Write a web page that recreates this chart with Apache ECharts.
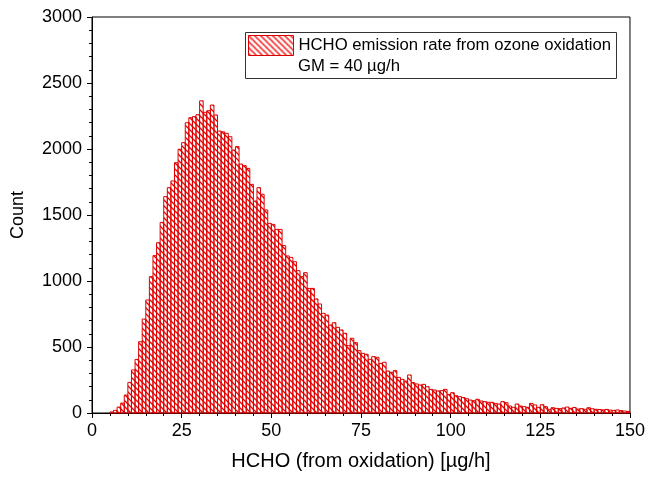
<!DOCTYPE html>
<html>
<head>
<meta charset="utf-8">
<script src="https://cdn.jsdelivr.net/npm/echarts@6/dist/echarts.min.js"></script>
<style>
  html, body { margin: 0; padding: 0; background: #fff; }
  #chart { width: 648px; height: 481px; }
</style>
</head>
<body>
<div id="chart"></div>
<script>
// Histogram of HCHO emission rate (bins of 1 µg/h, starting at 0)
const binWidth = 1;
const counts = [
  0, 0, 0, 0, 0, 8, 20, 45, 75, 136,
  232, 326, 406, 540, 712, 856, 1033, 1192, 1290, 1444,
  1639, 1707, 1758, 1896, 1998, 2048, 2199, 2237, 2245, 2260,
  2365, 2278, 2290, 2333, 2258, 2136, 2130, 2119, 2093, 1992,
  2018, 1886, 1874, 1853, 1732, 1606, 1707, 1657, 1538, 1437,
  1429, 1391, 1391, 1268, 1190, 1179, 1146, 1078, 1033, 1063,
  944, 944, 864, 826, 755, 742, 667, 684, 649, 629,
  604, 510, 566, 533, 472, 452, 445, 407, 427, 422,
  376, 384, 318, 308, 321, 270, 255, 242, 288, 230,
  220, 212, 217, 199, 179, 174, 167, 169, 179, 141,
  154, 131, 124, 117, 108, 98, 93, 104, 91, 86,
  81, 81, 73, 68, 86, 78, 53, 43, 68, 53,
  48, 43, 73, 61, 43, 63, 48, 28, 40, 35,
  33, 38, 45, 35, 42, 30, 33, 28, 40, 32,
  28, 26, 24, 27, 22, 20, 23, 18, 15, 12
];
const xTicks = [0, 25, 50, 75, 100, 125, 150];
const yTicks = [0, 500, 1000, 1500, 2000, 2500, 3000];
const seriesName = 'HCHO emission rate from ozone oxidation';
const gmText = 'GM = 40 µg/h';

// Diagonal hatch fill for the bars
function makeHatch(size, color, width) {
  const c = document.createElement('canvas');
  c.width = size; c.height = size;
  const ctx = c.getContext('2d');
  ctx.strokeStyle = color;
  ctx.lineWidth = width;
  ctx.beginPath();
  ctx.moveTo(-1, -1); ctx.lineTo(size + 1, size + 1);
  ctx.moveTo(size - 1, -1); ctx.lineTo(size + 1, 1);
  ctx.moveTo(-1, size - 1); ctx.lineTo(1, size + 1);
  ctx.stroke();
  return c;
}
const hatch = { image: makeHatch(6, '#f00000', 1.3), repeat: 'repeat' };
const edgeColor = '#dc0000';

const binData = [];
counts.forEach((c, i) => {
  if (c > 0) binData.push([i * binWidth, (i + 1) * binWidth, c]);
});

const font = 'Liberation Sans, Arial, sans-serif';
const chart = echarts.init(document.getElementById('chart'), null, { renderer: 'canvas' });

chart.setOption({
  animation: false,
  backgroundColor: '#fff',
  grid: {
    left: 92, right: 17, top: 17, bottom: 68,
    show: true, borderColor: '#000', borderWidth: 1, backgroundColor: 'transparent'
  },
  xAxis: {
    type: 'value',
    min: xTicks[0], max: xTicks[xTicks.length - 1], interval: 25,
    name: 'HCHO (from oxidation) [µg/h]',
    nameLocation: 'middle', nameGap: 38,
    nameTextStyle: { fontFamily: font, fontSize: 20, color: '#000' },
    axisLine: { show: true, onZero: false, lineStyle: { color: '#000', width: 1 } },
    axisTick: { show: true, inside: false, length: 5, lineStyle: { color: '#000' } },
    minorTick: { show: true, splitNumber: 5, length: 3, lineStyle: { color: '#000' } },
    axisLabel: { fontFamily: font, fontSize: 18, color: '#000', margin: 9 },
    splitLine: { show: false }
  },
  yAxis: {
    type: 'value',
    min: yTicks[0], max: yTicks[yTicks.length - 1], interval: 500,
    name: 'Count',
    nameLocation: 'middle', nameGap: 65,
    nameTextStyle: { fontFamily: font, fontSize: 18, color: '#000' },
    axisLine: { show: true, lineStyle: { color: '#000', width: 1 } },
    axisTick: { show: true, inside: false, length: 5, lineStyle: { color: '#000' } },
    minorTick: { show: true, splitNumber: 5, length: 3, lineStyle: { color: '#000' } },
    axisLabel: {
      fontFamily: font, fontSize: 18, color: '#000', margin: 10,
      formatter: v => String(v)
    },
    splitLine: { show: false }
  },
  legend: {
    show: true,
    left: 248, top: 35,
    itemWidth: 45, itemHeight: 20, itemGap: 0,
    padding: 0,
    textStyle: { fontFamily: font, fontSize: 16.7, color: '#000', padding: [1, 0, 0, 0] },
    data: [{
      name: seriesName,
      icon: 'rect',
      itemStyle: { color: hatch, borderColor: edgeColor, borderWidth: 1 }
    }]
  },
  graphic: [
    {
      type: 'rect', z: 1,
      shape: { x: 245.5, y: 32.5, width: 371, height: 46 },
      style: { fill: '#fff', stroke: '#333', lineWidth: 1 }
    },
    {
      type: 'text', z: 10,
      left: 298, top: 58,
      style: { text: gmText, fontFamily: font, fontSize: 16.7, fill: '#000' }
    }
  ],
  series: [{
    name: seriesName,
    type: 'custom',
    data: binData,
    encode: { x: [0, 1], y: 2 },
    itemStyle: { color: hatch, borderColor: edgeColor },
    renderItem: function (params, api) {
      const top = api.coord([api.value(0), api.value(2)]);
      const base = api.coord([api.value(1), 0]);
      return {
        type: 'rect',
        shape: { x: top[0], y: top[1], width: base[0] - top[0], height: base[1] - top[1] },
        style: { fill: hatch, stroke: edgeColor, lineWidth: 1 }
      };
    }
  }]
});
</script>
</body>
</html>
